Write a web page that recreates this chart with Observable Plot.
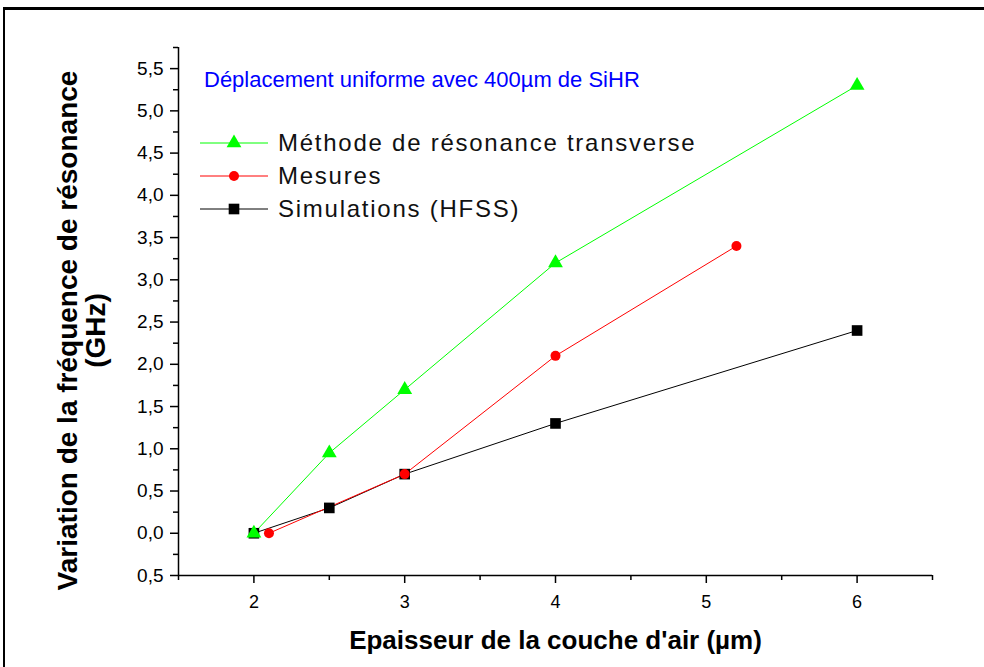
<!DOCTYPE html>
<html>
<head>
<meta charset="utf-8">
<script src="https://cdn.jsdelivr.net/npm/d3@7"></script>
<script src="https://cdn.jsdelivr.net/npm/@observablehq/plot@0.6"></script>
<style>
  html, body { margin: 0; padding: 0; background: #fff; }
  #wrap { position: relative; width: 984px; height: 667px; overflow: hidden; font-family: "Liberation Sans", Arial, sans-serif; }
  #frame { position: absolute; left: 3px; top: 7px; width: 990px; height: 700px; border-top: 3px solid #000; border-left: 2px solid #000; box-sizing: border-box; }
  #chart { position: absolute; left: 0; top: 0; }
  #title { position: absolute; left: 204px; top: 67px; font-size: 22px; color: #0000ff; white-space: nowrap; }
  .leg { position: absolute; left: 200px; height: 30px; display: flex; align-items: center; white-space: nowrap; font-size: 24px; color: #111; letter-spacing: 1.75px; }
  .leg svg { margin-right: 8px; }
</style>
</head>
<body>
<div id="wrap">
  <div id="frame"></div>
  <div id="chart"></div>
  <div id="title"></div>
  <div id="legend"></div>
</div>
<script>
// ---- data ----
const seriesNames = ["Méthode de résonance transverse", "Mesures", "Simulations (HFSS)"];
const seriesColors = ["#00ff00", "#ff0000", "#000000"];
const seriesSymbols = ["triangle", "circle", "square"];

const transX = [2, 2.5, 3, 4, 6];
const transY = [0, 0.95, 1.7, 3.2, 5.3];

const mesX = [2.1, 3, 4, 5.2];
const mesY = [0, 0.7, 2.1, 3.4];

const simX = [2, 2.5, 3, 4, 6];
const simY = [0, 0.3, 0.7, 1.3, 2.4];

const xTicks = [2, 3, 4, 5, 6];
const xMinorTicks = [1.5, 2.5, 3.5, 4.5, 5.5, 6.5];
const yTicks = [-0.5, 0, 0.5, 1, 1.5, 2, 2.5, 3, 3.5, 4, 4.5, 5, 5.5];
const yTickLabels = ["0,5", "0,0", "0,5", "1,0", "1,5", "2,0", "2,5", "3,0", "3,5", "4,0", "4,5", "5,0", "5,5"];
const yMinorTicks = [-0.25, 0.25, 0.75, 1.25, 1.75, 2.25, 2.75, 3.25, 3.75, 4.25, 4.75, 5.25, 5.75];

const titleText = "Déplacement uniforme avec 400µm de SiHR";
const xLabel = "Epaisseur de la couche d'air (µm)";
const yLabel = "Variation de la fréquence de résonance\n(GHz)";

// ---- build table ----
const toRows = (xs, ys, s) => xs.map((x, i) => ({x, y: ys[i], s}));
const trans = toRows(transX, transY, seriesNames[0]);
const mes = toRows(mesX, mesY, seriesNames[1]);
const sim = toRows(simX, simY, seriesNames[2]);

const font = "'Liberation Sans', Arial, sans-serif";

const chart = Plot.plot({
  width: 984,
  height: 667,
  marginLeft: 178,
  marginRight: 52,
  marginTop: 47,
  marginBottom: 92,
  style: {fontFamily: font, fontSize: "18px", background: "transparent", color: "#000", overflow: "visible"},
  x: {domain: [1.5, 6.5]},
  y: {domain: [-0.5, 5.75]},
  marks: [
    Plot.axisX({ticks: xMinorTicks, tickSize: 5, tickFormat: () => "", label: null, strokeWidth: 1.5}),
    Plot.axisX({ticks: xTicks, tickSize: 8, tickPadding: 12, tickFormat: d => String(d), label: null, strokeWidth: 1.5, fontSize: 18}),
    Plot.axisY({ticks: yMinorTicks, tickSize: 5, tickFormat: () => "", label: null, strokeWidth: 1.5}),
    Plot.axisY({ticks: yTicks, tickSize: 8, tickPadding: 7, tickFormat: d => yTickLabels[yTicks.indexOf(d)], label: null, strokeWidth: 1.5, fontSize: 19, letterSpacing: "3.2px"}),
    Plot.ruleX([1.5], {stroke: "#000", strokeWidth: 1.5}),
    Plot.ruleY([-0.5], {stroke: "#000", strokeWidth: 1.5}),
    Plot.text([xLabel], {frameAnchor: "bottom", dy: 65, fontWeight: "bold", fontSize: 26, letterSpacing: "1.2px", lineAnchor: "middle", textAnchor: "middle", fill: "#000"}),
    Plot.text([yLabel], {frameAnchor: "left", dx: -96, dy: 19, rotate: -90, fontWeight: "bold", fontSize: 28, letterSpacing: "1.6px", lineAnchor: "middle", textAnchor: "middle", lineHeight: 1.0, fill: "#000"}),
    // lines
    Plot.line(sim, {x: "x", y: "y", stroke: seriesColors[2], strokeWidth: 1}),
    Plot.line(trans, {x: "x", y: "y", stroke: seriesColors[0], strokeWidth: 1}),
    Plot.line(mes, {x: "x", y: "y", stroke: seriesColors[1], strokeWidth: 1}),
    // markers
    Plot.dot(sim, {x: "x", y: "y", symbol: "square", r: 6, fill: seriesColors[2], stroke: "none"}),
    Plot.dot(trans, {x: "x", y: "y", symbol: "triangle", r: 5.5, fill: seriesColors[0], stroke: "none"}),
    Plot.dot(mes, {x: "x", y: "y", symbol: "circle", r: 5, fill: seriesColors[1], stroke: "none"})
  ]
});
document.getElementById("chart").appendChild(chart);

document.getElementById("title").textContent = titleText;

// legend
const legend = document.getElementById("legend");
const legendTops = [128, 161, 194];
seriesNames.forEach((name, i) => {
  const row = document.createElement("div");
  row.className = "leg";
  row.style.top = legendTops[i] + "px";
  const sw = d3.create("svg").attr("width", 70).attr("height", 30);
  sw.append("line").attr("x1", 0).attr("x2", 68).attr("y1", 15).attr("y2", 15)
    .attr("stroke", seriesColors[i]).attr("stroke-width", 1);
  const sym = {triangle: d3.symbolTriangle, circle: d3.symbolCircle, square: d3.symbolSquare}[seriesSymbols[i]];
  const rr = [5.5, 5, 6][i];
  sw.append("path").attr("transform", "translate(34,15)")
    .attr("d", d3.symbol(sym, Math.PI * rr * rr)())
    .attr("fill", seriesColors[i]);
  row.appendChild(sw.node());
  const t = document.createElement("span");
  t.textContent = name;
  row.appendChild(t);
  legend.appendChild(row);
});
</script>
</body>
</html>
